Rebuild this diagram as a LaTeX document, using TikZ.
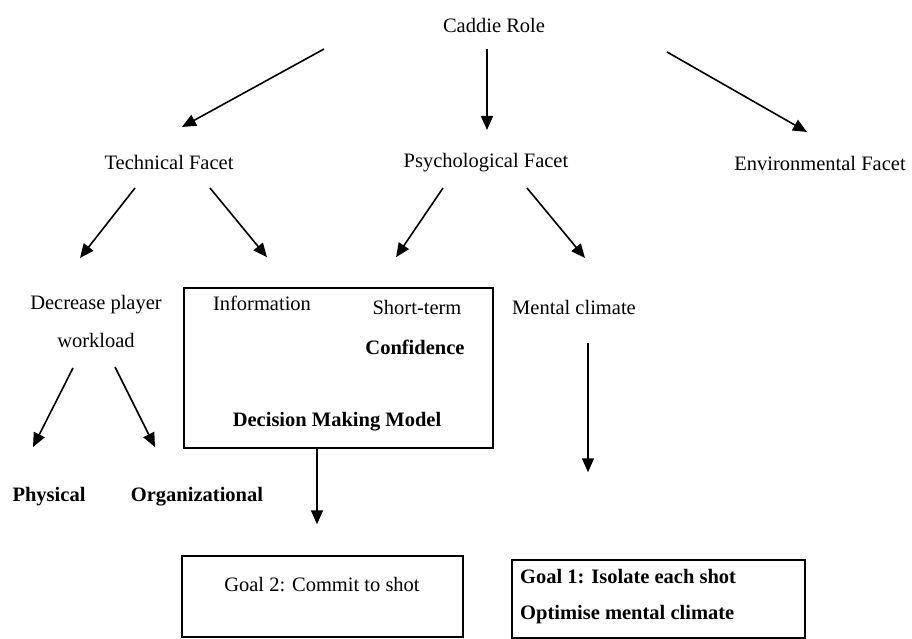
\documentclass[tikz,border=0pt]{standalone}
\usepackage{fontspec}
\setmainfont{Liberation Serif}
\usetikzlibrary{arrows.meta}

\tikzstyle{lbl} = [inner sep=2pt, align=center]
\tikzstyle{lblb} = [inner sep=2pt, align=center, execute at begin node=\bfseries]
\tikzstyle{boxed} = [rectangle, draw, line width=1.5pt, inner sep=0pt]
\tikzstyle{arr} = [line width=1.6pt, -{Triangle[length=14pt,width=12pt]}]

\begin{document}
\begin{tikzpicture}[x=1pt, y=-1pt, font=\fontsize{20.5}{38}\selectfont]
	\useasboundingbox (0,0) rectangle (912,639);
	% top row
	\node [lbl] (caddie) at (494,25) {Caddie Role};
	\node [lbl] (tech) at (169,162) {Technical Facet};
	\node [lbl] (psych) at (486,163) {Psychological Facet};
	\node [lbl] (env) at (820,163) {Environmental Facet};
	%
	\node [lbl] (workload) at (96,321) {Decrease player\\workload};
	\node [lbl] (mental) at (574,307) {Mental climate};
	\node [lblb] (physical) at (49,497) {Physical};
	\node [lblb] (organizational) at (197,497) {Organizational};
	% decision making box
	\node [boxed, minimum width=309pt, minimum height=160pt] (dmm) at (338.5,368) {};
	\node [lbl] (info) at (262,303) {Information};
	\node [lbl] (shortterm) at (417,307) {Short-term};
	\node [lblb] (confidence) at (415,347) {Confidence};
	\node [lblb] (decision) at (337,422) {Decision Making Model};
	% goals
	\node [boxed, minimum width=281pt, minimum height=81pt] (goal2) at (322.5,596.5) {};
	\node [lbl] (goaltwo) at (322,585) {Goal 2: Commit to shot};
	\node [boxed, minimum width=293pt, minimum height=78pt] (goal1) at (658.5,599) {};
	\node [lblb, anchor=west] (goalone) at (518,577) {Goal 1: Isolate each shot};
	\node [lblb, anchor=west] (optimise) at (518,615) {Optimise mental climate};
	%
	\draw [arr] ([shift={(-170,24)}]caddie.center) -- ([shift={(13,-35)}]tech.center);
	\draw [arr] ([shift={(-7,24)}]caddie.center) -- ([shift={(1,-33)}]psych.center);
	\draw [arr] ([shift={(173,27)}]caddie.center) -- ([shift={(-13,-31)}]env.center);
	%
	\draw [arr] ([shift={(-34,26)}]tech.center) -- ([shift={(-16,-63)}]workload.center);
	\draw [arr] ([shift={(41,26)}]tech.center) -- ([shift={(-71.5,-30)}]dmm.north);
	\draw [arr] ([shift={(-43,25)}]psych.center) -- ([shift={(57.5,-30)}]dmm.north);
	\draw [arr] ([shift={(41,25)}]psych.center) -- ([shift={(11,-49)}]mental.center);
	%
	\draw [arr] ([shift={(-23,47)}]workload.center) -- ([shift={(-16,-50)}]physical.center);
	\draw [arr] ([shift={(19,46)}]workload.center) -- ([shift={(-42,-50)}]organizational.center);
	\draw [arr] ([shift={(-21.5,0)}]dmm.south) -- ([shift={(-5.5,-31)}]goal2.north);
	\draw [arr] ([shift={(14,36)}]mental.center) -- ([shift={(-70.5,-87)}]goal1.north);
\end{tikzpicture}
\end{document}
